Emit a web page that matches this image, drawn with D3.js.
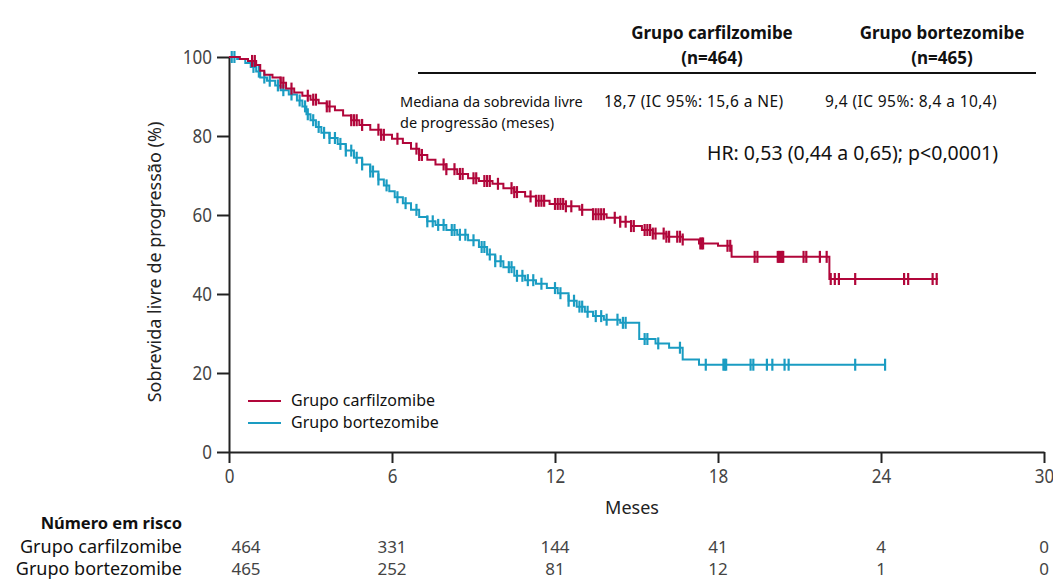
<!DOCTYPE html>
<html>
<head>
<meta charset="utf-8">
<script src="https://cdn.jsdelivr.net/npm/d3@7"></script>
<style>
body { margin: 0; background: #fff; }
text { font-family: "Noto Sans", "Open Sans", sans-serif; }
</style>
</head>
<body>
<div id="chart"></div>
<script>
var width = 1053,
	height = 580;

// kaplan-meier steps: [meses, sobrevida %]
var carfilSteps = [[0,100],[0.4,99.5],[0.7,99],[1.0,98],[1.15,96.5],[1.3,95.5],[1.6,94.8],[1.9,93.5],[2.1,92],[2.4,91],
	[2.7,90.2],[3.0,89.2],[3.3,88.3],[3.6,87.5],[3.9,86.5],[4.2,85.2],[4.5,84],[4.8,82.8],[5.2,81.6],[5.6,80.3],
	[6.0,79.3],[6.4,78.2],[6.7,76.8],[7.0,75.2],[7.3,74],[7.6,72.8],[8.0,71.6],[8.4,70.4],[8.8,69.3],[9.2,68.6],
	[9.7,67.9],[10.1,66.8],[10.5,65.8],[10.9,64.7],[11.3,63.6],[11.8,62.8],[12.4,62.2],[12.9,61.3],[13.4,60.2],
	[13.9,59.3],[14.4,58.3],[14.8,57.2],[15.2,56.2],[15.6,55.3],[16.1,54.5],[16.7,53.8],[17.3,52.8],[18.0,52.2],
	[18.5,49.4],[22.1,43.8],[26.1,43.8]];
var bortezSteps = [[0,100],[0.3,99.5],[0.6,98.5],[0.8,97.5],[1.0,96.3],[1.15,94.8],[1.4,94],[1.7,92.8],[1.9,91.6],
	[2.2,90.5],[2.5,89],[2.7,87.5],[2.85,85.5],[3.0,84],[3.2,82.3],[3.4,80.8],[3.7,79.5],[4.0,78],[4.3,76.3],
	[4.6,74.5],[4.9,72.8],[5.2,71],[5.5,69],[5.7,67.5],[5.9,66],[6.1,64.5],[6.4,63],[6.7,61.3],[7.0,59.5],
	[7.3,58.4],[7.6,57.5],[8.0,56.2],[8.4,55],[8.8,53.6],[9.2,51.9],[9.5,50],[9.8,48.3],[10.1,46.8],[10.5,44.6],
	[10.9,43.5],[11.3,42.6],[11.7,41.5],[12.1,40.2],[12.5,38.3],[12.8,36.8],[13.1,35.5],[13.4,34.4],[13.8,33.5],
	[14.4,32.7],[15.1,28.6],[15.7,27.5],[16.2,26.4],[16.7,23.4],[17.3,22.1],[24.15,22.1]];

// censuras (meses)
var carfilCensor = [0.85,0.95,1.9,2.0,2.3,2.9,3.1,3.2,3.6,3.7,4.5,4.6,4.7,4.9,5.5,5.6,5.7,6.2,6.9,7.0,7.1,7.9,8.0,
	8.3,8.5,8.6,9.0,9.1,9.4,9.5,9.6,9.9,10.4,10.5,10.6,11.1,11.3,11.4,11.5,11.6,12.0,12.1,12.2,12.3,12.4,12.6,13.0,
	13.4,13.5,13.6,13.7,13.8,14.2,14.4,14.6,14.8,14.9,15.3,15.4,15.5,15.6,15.7,16.0,16.1,16.2,16.5,16.6,16.7,17.35,
	17.4,17.45,18.35,18.45,19.35,19.45,20.2,20.25,20.3,20.35,20.4,21.15,21.25,21.75,22.0,22.15,22.3,22.45,23.05,
	24.85,25.0,25.9,26.05];
var bortezCensor = [0.1,0.2,0.9,1.1,1.3,1.5,1.8,2.0,2.3,2.6,2.8,2.9,3.1,3.3,3.5,3.7,3.9,4.1,4.3,4.5,4.7,4.9,5.2,5.3,
	5.5,5.8,6.2,6.5,6.9,7.3,7.5,7.7,7.9,8.2,8.3,8.5,8.7,9.0,9.3,9.4,9.6,9.8,10.0,10.3,10.4,10.6,10.8,11.0,11.2,11.5,
	12.0,12.2,12.5,12.7,12.9,13.0,13.2,13.5,13.7,13.9,14.3,14.5,14.6,15.3,15.4,15.8,16.6,17.55,18.2,18.25,18.3,19.2,
	19.3,19.8,20.0,20.45,20.6,23.05,24.15];

var groups = ["Grupo carfilzomibe", "Grupo bortezomibe"];
var groupN = ["(n=464)", "(n=465)"];
var medians = ["18,7 (IC 95%: 15,6 a NE)", "9,4 (IC 95%: 8,4 a 10,4)"];
var xTicks = [0, 6, 12, 18, 24, 30];
var yTicks = [0, 20, 40, 60, 80, 100];
var riskCarfil = [464, 331, 144, 41, 4, 0];
var riskBortez = [465, 252, 81, 12, 1, 0];

var red = "#b1063a",
	blue = "#1a9cc2";

var svg = d3.select("#chart").append("svg")
	.attr("width", width)
	.attr("height", height);

var x = d3.scaleLinear().domain([0, 30]).range([229, 1044]);
var y = d3.scaleLinear().domain([0, 100]).range([452, 57]);

// axes (numbers squeezed a bit, the original uses a narrow face)
var xAxis = svg.append("g")
	.attr("transform", "translate(0," + y(0) + ")")
	.call(d3.axisBottom(x).tickValues(xTicks).tickSize(11).tickPadding(6).tickSizeOuter(0));
var yAxis = svg.append("g")
	.attr("transform", "translate(" + x(0) + ",0)")
	.call(d3.axisLeft(y).tickValues(yTicks).tickSize(12).tickPadding(8).tickSizeOuter(0));
[xAxis, yAxis].forEach(function(a) {
	a.selectAll("path, line").attr("stroke", "#222").attr("stroke-width", 2);
	a.selectAll("text")
		.attr("font-size", 20)
		.attr("fill", "#444")
		.attr("transform", "scale(0.85,1)");
});

svg.append("text")
	.attr("transform", "translate(161,262) rotate(-90)")
	.attr("text-anchor", "middle")
	.attr("font-size", 18)
	.attr("fill", "#222")
	.text("Sobrevida livre de progressão (%)");
svg.append("text")
	.attr("x", 632).attr("y", 514)
	.attr("text-anchor", "middle")
	.attr("font-size", 18)
	.attr("fill", "#222")
	.text("Meses");

// curves
var line = d3.line()
	.x(function(d) { return x(d[0]); })
	.y(function(d) { return y(d[1]); })
	.curve(d3.curveStepAfter);

function survAt(steps, t) {
	var s = steps[0][1];
	steps.forEach(function(d) { if (d[0] <= t) s = d[1]; });
	return s;
}

function drawCurve(steps, censor, color) {
	svg.append("path")
		.datum(steps)
		.attr("d", line)
		.attr("fill", "none")
		.attr("stroke", color)
		.attr("stroke-width", 2);
	svg.append("g").selectAll("line")
		.data(censor)
		.enter().append("line")
		.attr("x1", function(d) { return x(d); })
		.attr("x2", function(d) { return x(d); })
		.attr("y1", function(d) { return y(survAt(steps, d)) - 6; })
		.attr("y2", function(d) { return y(survAt(steps, d)) + 6; })
		.attr("stroke", color)
		.attr("stroke-width", 2.2);
}
drawCurve(bortezSteps, bortezCensor, blue);
drawCurve(carfilSteps, carfilCensor, red);

// header table
var colX = [712, 942];
groups.forEach(function(g, i) {
	svg.append("text").attr("x", colX[i]).attr("y", 39)
		.attr("text-anchor", "middle").attr("font-size", 17).attr("font-weight", "bold")
		.attr("fill", "#111").text(g);
	svg.append("text").attr("x", colX[i]).attr("y", 64)
		.attr("text-anchor", "middle").attr("font-size", 17).attr("font-weight", "bold")
		.attr("fill", "#111").text(groupN[i]);
});
svg.append("line")
	.attr("x1", 418).attr("x2", 1036).attr("y1", 73).attr("y2", 73)
	.attr("stroke", "#111").attr("stroke-width", 2);
svg.append("text").attr("x", 400).attr("y", 107).attr("font-size", 14.5).attr("fill", "#111")
	.text("Mediana da sobrevida livre");
svg.append("text").attr("x", 400).attr("y", 128).attr("font-size", 14.5).attr("fill", "#111")
	.text("de progressão (meses)");
svg.append("text").attr("x", 604).attr("y", 107).attr("font-size", 15.5).attr("letter-spacing", 0.4)
	.attr("fill", "#111").text(medians[0]);
svg.append("text").attr("x", 825).attr("y", 107).attr("font-size", 15.5).attr("letter-spacing", 0.4)
	.attr("fill", "#111").text(medians[1]);
svg.append("text").attr("x", 707).attr("y", 160).attr("font-size", 19.5).attr("fill", "#111")
	.text("HR: 0,53 (0,44 a 0,65); p<0,0001)");

// legend
[red, blue].forEach(function(c, i) {
	svg.append("line")
		.attr("x1", 248).attr("x2", 281)
		.attr("y1", 401 + i * 22).attr("y2", 401 + i * 22)
		.attr("stroke", c).attr("stroke-width", 2.2);
	svg.append("text")
		.attr("x", 291).attr("y", 406 + i * 22)
		.attr("font-size", 16).attr("fill", "#111")
		.text(groups[i]);
});

// numero em risco
svg.append("text").attr("x", 182).attr("y", 529)
	.attr("text-anchor", "end").attr("font-size", 16.5).attr("font-weight", "bold").attr("fill", "#111")
	.text("Número em risco");
[riskCarfil, riskBortez].forEach(function(row, r) {
	var ry = 553 + r * 22;
	svg.append("text").attr("x", 182).attr("y", ry)
		.attr("text-anchor", "end").attr("font-size", 18).attr("fill", "#111")
		.text(groups[r]);
	svg.append("g").selectAll("text")
		.data(row)
		.enter().append("text")
		.attr("x", function(d, i) { return x(xTicks[i]) + (i === 0 ? 17 : 0); })
		.attr("y", ry)
		.attr("text-anchor", "middle")
		.attr("font-size", 17)
		.attr("fill", "#444")
		.text(function(d) { return d; });
});
</script>
</body>
</html>
